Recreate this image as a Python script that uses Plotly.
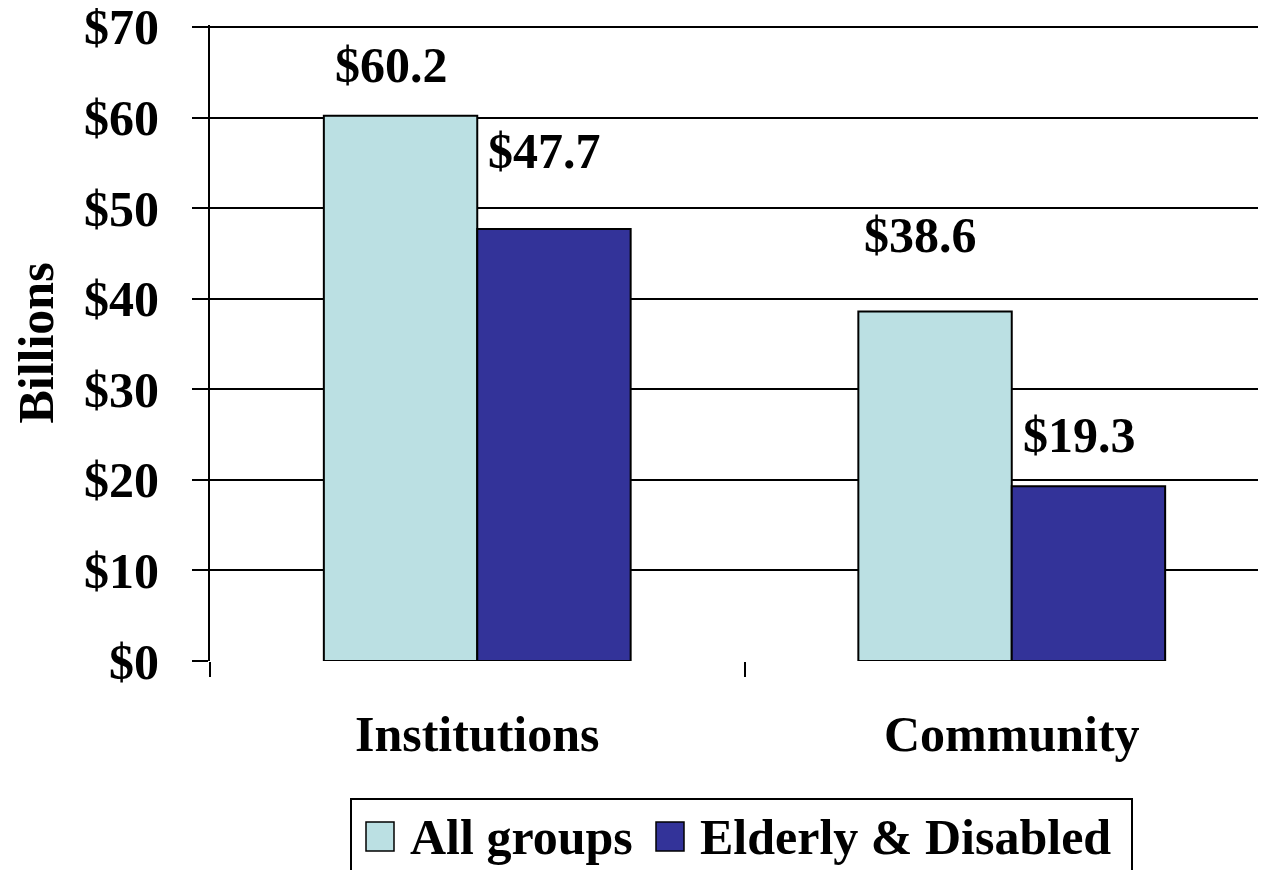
import plotly.graph_objects as go

categories = ["Institutions", "Community"]
all_groups = [60.2, 38.6]
elderly_disabled = [47.7, 19.3]
series_names = ["All groups", "Elderly & Disabled"]
tick_vals = [0, 10, 20, 30, 40, 50, 60, 70]
tick_text = ["$0", "$10", "$20", "$30", "$40", "$50", "$60", "$70"]

colors = ["#BBE0E3", "#333399"]
# label placement (pixels), per series, per category
label_yshift = [[51, 76], [78, 51]]
label_xshift = [[-9, -15], [-9, -9]]

FONT = "Liberation Serif"
W, H = 1266, 870
OFF = 8  # page body margin
ML, MR, MT, MB = 202, 0, 17, 217
PW, PH = W - ML - MR, H - MT - MB
Y_TOP = 70.22


def px_x(p):
    return (p - OFF - ML) / PW


def px_y(p):
    return (H - MB - (p - OFF)) / PH


fig = go.Figure()
for vals, name, col in zip([all_groups, elderly_disabled], series_names, colors):
    fig.add_trace(go.Bar(x=categories, y=vals, name=name, showlegend=False,
                         marker=dict(color=col, line=dict(color="black", width=2))))

bar_w = (1 - 0.426) / 2
for si, vals in enumerate([all_groups, elderly_disabled]):
    off = (si - 0.5) * bar_w
    for ci, v in enumerate(vals):
        fig.add_annotation(x=ci + off, y=v, xref="x", yref="y", text=f"<b>${v:.1f}</b>",
                           showarrow=False, yanchor="middle",
                           yshift=label_yshift[si][ci], xshift=label_xshift[si][ci],
                           font=dict(family=FONT, size=50, color="black"))

# custom legend (box, swatches, labels) in page pixels
legend_box = (351, 1132, 799, 900)
swatch_x = [366, 656]
text_x = [408, 698]
swatch_y = (822, 851)
fig.add_shape(type="rect", xref="paper", yref="paper",
              x0=px_x(legend_box[0]), x1=px_x(legend_box[1]),
              y0=px_y(legend_box[2]), y1=px_y(legend_box[3]),
              line=dict(color="black", width=2), fillcolor="white", layer="above")
for name, col, sx, tx in zip(series_names, colors, swatch_x, text_x):
    fig.add_shape(type="rect", xref="paper", yref="paper",
                  x0=px_x(sx), x1=px_x(sx + 28), y0=px_y(swatch_y[0]), y1=px_y(swatch_y[1]),
                  line=dict(color="black", width=1.5), fillcolor=col, layer="above")
    fig.add_annotation(x=px_x(tx), y=px_y((swatch_y[0] + swatch_y[1]) / 2), xref="paper", yref="paper",
                       text=f"<b>{name}</b>", showarrow=False, xanchor="left", yanchor="middle",
                       font=dict(family=FONT, size=50, color="black"))

fig.update_layout(
    width=W, height=H,
    margin=dict(l=ML, r=MR, t=MT, b=MB),
    paper_bgcolor="white", plot_bgcolor="white",
    barmode="group", bargap=0.426, bargroupgap=0,
    font=dict(family=FONT, size=50, color="black"),
    showlegend=False,
)
fig.update_xaxes(type="category", range=[-0.5, -0.5 + PW / 534.5], tickson="boundaries",
                 ticks="outside", ticklen=15, tickwidth=2, tickcolor="black",
                 showline=False, showgrid=False, zeroline=False, automargin=False,
                 tickfont=dict(family=FONT, size=50, color="black"),
                 tickvals=[0, 1], ticktext=[f"<b>{c}</b>" for c in categories],
                 ticklabelstandoff=39)
fig.update_yaxes(range=[0, Y_TOP], tickvals=tick_vals, ticktext=[f"<b>{t}</b>" for t in tick_text],
                 ticks="outside", ticklen=16, tickwidth=2, tickcolor="black",
                 showline=True, linecolor="black", linewidth=2, automargin=False,
                 showgrid=True, gridcolor="black", gridwidth=2, zeroline=False,
                 tickfont=dict(family=FONT, size=50, color="black"),
                 ticklabelstandoff=23, ticklabeloverflow="allow",
                 title=dict(text="<b>Billions</b>", font=dict(family=FONT, size=50, color="black"),
                            standoff=24))

fig.write_html("out.html")
